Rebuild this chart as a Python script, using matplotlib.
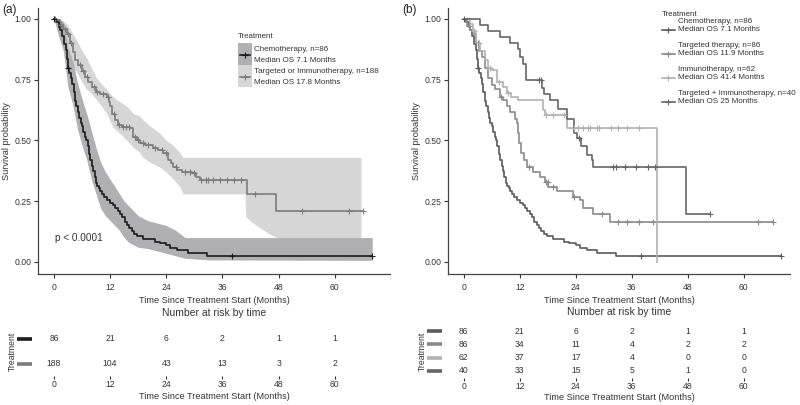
import matplotlib
matplotlib.use('Agg')
import matplotlib.pyplot as plt
import numpy as np
from matplotlib.patches import Rectangle
from matplotlib.lines import Line2D

plt.rcParams['font.family'] = ['Liberation Sans', 'DejaVu Sans']

# ---- data ----
ticks = [0, 12, 24, 36, 48, 60]

chemo_t = [0, 0.5, 1.0, 1.4, 1.8, 2.2, 2.5, 2.8, 3.0, 3.3, 3.6, 3.9, 4.2, 4.5, 4.8, 5.1, 5.4, 5.7, 6.0,
           6.3, 6.6, 6.9, 7.2, 7.5, 7.8, 8.1, 8.4, 8.7, 9.0, 9.3, 9.6, 9.9, 10.3, 10.8, 11.4, 12.0, 12.6,
           13.1, 13.6, 14.1, 14.6, 15.1, 15.6, 16.1, 16.6, 17.1, 17.8, 19.0, 21.5, 22.6, 24.0, 24.8, 26.3,
           28.6, 32.7]
chemo_s = [1.0, 0.988, 0.965, 0.953, 0.93, 0.895, 0.872, 0.837, 0.80, 0.779, 0.756, 0.733, 0.698, 0.663,
           0.64, 0.617, 0.593, 0.57, 0.558, 0.535, 0.512, 0.50, 0.477, 0.442, 0.419, 0.395, 0.372, 0.349,
           0.326, 0.314, 0.302, 0.291, 0.279, 0.267, 0.256, 0.244, 0.233, 0.221, 0.209, 0.198, 0.186,
           0.163, 0.151, 0.140, 0.128, 0.116, 0.105, 0.093, 0.081, 0.076, 0.070, 0.058, 0.047, 0.035, 0.026]
chemo_end = 68.0
chemo_cens = [0.0, 3.0, 38.0, 68.0]

chemo_ci_t = [0, 1, 2, 3, 4, 5, 6, 7, 8, 9, 10, 11, 12, 13, 14, 15, 16, 17, 18, 20, 22, 24, 26, 28, 33, 68]
chemo_hi = [1.0, 1.0, 0.99, 0.88, 0.83, 0.74, 0.67, 0.61, 0.54, 0.47, 0.41, 0.37, 0.34, 0.31, 0.28,
            0.25, 0.23, 0.21, 0.19, 0.17, 0.16, 0.15, 0.13, 0.10, 0.10, 0.10]
chemo_lo = [1.0, 0.93, 0.87, 0.72, 0.65, 0.55, 0.48, 0.42, 0.34, 0.28, 0.22, 0.19, 0.17, 0.15, 0.13,
            0.10, 0.08, 0.07, 0.06, 0.055, 0.045, 0.035, 0.025, 0.015, 0.008, 0.006]

comb_t = [0, 0.5, 1.3, 2.0, 2.7, 3.4, 4.0, 4.5, 5.2, 5.9, 6.6, 7.3, 8.1, 9.0, 9.8, 11.3, 11.7, 12.0,
          12.5, 13.0, 13.7, 14.5, 16.2, 17.0, 17.7, 18.4, 19.5, 21.2, 22.3, 23.3, 24.4, 25.0, 25.5, 26.3,
          27.3, 29.5, 30.3, 31.2, 41.2, 47.4]
comb_s = [1.0, 0.995, 0.975, 0.96, 0.94, 0.90, 0.865, 0.83, 0.81, 0.785, 0.76, 0.74, 0.72, 0.70, 0.69,
          0.68, 0.66, 0.64, 0.61, 0.585, 0.565, 0.555, 0.55, 0.515, 0.50, 0.49, 0.48, 0.47, 0.46, 0.45,
          0.42, 0.405, 0.39, 0.38, 0.37, 0.365, 0.35, 0.337, 0.28, 0.21]
comb_end = 66.0
comb_cens = [0.3, 1.5, 2.3, 3.0, 3.7, 5.5, 6.2, 7.0, 8.5, 9.3, 10.5, 11.5, 12.8, 14.0, 14.8, 15.5, 16.0,
             17.3, 18.0, 19.0, 20.0, 21.5, 23.0, 24.0, 26.0, 28.0, 29.0, 30.0, 31.5, 32.5, 33.0, 34.0,
             35.5, 37.0, 38.5, 40.0, 43.0, 53.0, 63.0, 66.0]

comb_ci_t = [0, 1.3, 2.7, 4.0, 4.9, 6.0, 7.0, 7.7, 9.0, 9.8, 11.3, 12.6, 14.0, 15.6, 17.0, 18.4, 19.0,
             20.5, 22.6, 24.0, 25.5, 26.9, 27.6, 40.8, 41.0, 42.5, 44.5, 46.0, 47.6, 65.6]
comb_hi = [1.0, 1.0, 0.98, 0.94, 0.91, 0.87, 0.84, 0.81, 0.76, 0.74, 0.71, 0.68, 0.66, 0.64, 0.61, 0.60,
           0.585, 0.56, 0.53, 0.50, 0.48, 0.45, 0.43, 0.43, 0.43, 0.43, 0.43, 0.43, 0.43, 0.43]
comb_lo = [1.0, 0.94, 0.86, 0.80, 0.78, 0.74, 0.71, 0.70, 0.67, 0.65, 0.61, 0.555, 0.53, 0.50, 0.47,
           0.45, 0.43, 0.41, 0.39, 0.37, 0.34, 0.31, 0.28, 0.28, 0.185, 0.16, 0.135, 0.115, 0.10, 0.10]

targ_t = [0, 0.7, 1.3, 2.0, 2.7, 3.2, 3.8, 4.5, 5.2, 6.0, 6.6, 7.7, 8.4, 9.2, 9.9, 10.9, 11.3, 11.6,
          11.9, 12.3, 12.8, 13.5, 14.8, 16.3, 17.4, 18.1, 19.9, 23.4, 24.9, 25.5, 27.6, 31.3]
targ_s = [1.0, 0.97, 0.955, 0.94, 0.90, 0.87, 0.845, 0.80, 0.755, 0.73, 0.71, 0.68, 0.665, 0.64, 0.615,
          0.59, 0.57, 0.53, 0.49, 0.45, 0.42, 0.39, 0.37, 0.35, 0.33, 0.31, 0.29, 0.265, 0.255, 0.22,
          0.195, 0.165]
targ_end = 66.3
targ_cens = [1.0, 3.0, 8.0, 14.0, 17.5, 18.0, 19.0, 23.5, 29.7, 33.0, 35.0, 37.5, 40.5, 63.0, 66.3]

imm_t = [0, 1.3, 2.0, 2.7, 3.4, 4.5, 5.2, 6.1, 7.0, 8.4, 9.2, 10.2, 11.6, 17.0, 17.4, 22.0, 41.4]
imm_s = [1.0, 0.98, 0.95, 0.90, 0.87, 0.83, 0.80, 0.79, 0.74, 0.72, 0.695, 0.68, 0.665, 0.625, 0.605,
         0.55, 0.0]
imm_end = 41.4
imm_cens = [2.2, 3.2, 5.5, 7.5, 9.5, 17.5, 19.0, 21.5, 23.5, 24.5, 25.5, 26.5, 27.0, 28.5, 29.0, 31.5,
            33.0, 35.0, 37.5]

ti_t = [0, 3.4, 5.2, 7.7, 9.9, 11.5, 12.0, 12.7, 13.4, 16.7, 17.2, 18.4, 20.2, 22.0, 23.6, 24.2, 25.2,
        26.3, 27.4, 27.7, 47.7]
ti_s = [1.0, 0.975, 0.95, 0.925, 0.90, 0.875, 0.845, 0.815, 0.75, 0.715, 0.69, 0.665, 0.63, 0.59, 0.53,
        0.51, 0.475, 0.44, 0.42, 0.39, 0.195]
ti_end = 52.7
ti_cens = [16.0, 16.5, 24.6, 32.0, 32.5, 34.5, 37.0, 39.5, 41.0, 52.7]

a_risk = [[86, 21, 6, 2, 1, 1], [188, 104, 43, 13, 3, 2]]
b_risk = [[86, 21, 6, 2, 1, 1], [86, 34, 11, 4, 2, 2], [62, 37, 17, 4, 0, 0], [40, 33, 15, 5, 1, 0]]

a_labels = [('Chemotherapy, n=86', 'Median OS 7.1 Months'),
            ('Targeted or Immunotherapy, n=188', 'Median OS 17.8 Months')]
b_labels = [('Chemotherapy, n=86', 'Median OS 7.1 Months'),
            ('Targeted therapy, n=86', 'Median OS 11.9 Months'),
            ('Immunotherapy, n=62', 'Median OS 41.4 Months'),
            ('Targeted + Immunotherapy, n=40', 'Median OS 25 Months')]

a_cols = ['#1c1c1c', '#7c7c7c']
a_band = ['#b0b0b3', '#d6d6d6']
b_cols = ['#5a5a5a', '#8a8a8a', '#b2b2b2', '#666666']

TXT = '#333333'
W, H = 800, 405


def km(ax, t, s, end, cens, color, lw=1.2):
    tt = list(t) + [end]
    ss = list(s) + [s[-1]]
    ax.step(tt, ss, where='post', color=color, lw=lw, zorder=3)
    idx = np.searchsorted(t, cens, side='right') - 1
    ax.plot(cens, np.array(s)[idx], ls='none', marker='+', ms=5, mew=0.8, color=color, zorder=4)


def style_main(ax, xmax):
    ax.set_xlim(-3.4, xmax)
    ax.set_ylim(-0.05, 1.045)
    for sp in ['top', 'right']:
        ax.spines[sp].set_visible(False)
    for sp in ['left', 'bottom']:
        ax.spines[sp].set_color('#444444')
        ax.spines[sp].set_linewidth(0.9)
    ax.set_xticks(ticks)
    ax.set_yticks([0, 0.25, 0.5, 0.75, 1.0])
    ax.set_yticklabels(['0.00', '0.25', '0.50', '0.75', '1.00'])
    ax.tick_params(labelsize=6.2, colors=TXT, length=3, width=0.8)
    ax.tick_params(axis='y', pad=1.5)
    ax.set_xlabel('Time Since Treatment Start (Months)', fontsize=6.6, color=TXT, labelpad=3)
    ax.set_ylabel('Survival probability', fontsize=6.6, color=TXT, labelpad=3)


def style_risk(ax, xmax, rows, cols, title):
    n = len(rows)
    ax.set_xlim(-3.4, xmax)
    ax.set_ylim(n - 0.5, -0.5)
    for sp in ax.spines.values():
        sp.set_visible(False)
    ax.set_yticks([])
    ax.set_xticks(ticks)
    ax.tick_params(axis='x', labelsize=6.2, colors=TXT, length=2, width=0.8, pad=1)
    ax.set_xlabel('Time Since Treatment Start (Months)', fontsize=6.6, color=TXT, labelpad=2)
    for i, row in enumerate(rows):
        for x, v in zip(ticks, row):
            ax.text(x, i, str(v), ha='center', va='center', fontsize=6.2, color=TXT)
        ax.plot([-0.06, -0.017], [i, i], transform=ax.get_yaxis_transform(), color=cols[i],
                lw=2.6, clip_on=False, solid_capstyle='butt')
    ax.set_title(title, fontsize=7.5, color=TXT, pad=7)
    ax.set_ylabel('Treatment', fontsize=6.2, color=TXT, labelpad=15)


fig = plt.figure(figsize=(8, 4.05), dpi=100)


def px_axes(l, r, top, bot):
    return fig.add_axes([l / W, 1 - bot / H, (r - l) / W, (bot - top) / H])


def ptext(x, y, s, **kw):
    fig.text(x / W, 1 - y / H, s, va='center', ha='left', color=TXT, **kw)


def pkey(x1, x2, y, color):
    fx = [x1 / W, x2 / W]
    fy = [1 - y / H] * 2
    fig.add_artist(Line2D(fx, fy, color=color, lw=1.2, transform=fig.transFigure))
    fig.add_artist(Line2D([sum(fx) / 2], [fy[0]], color=color, marker='+', ms=5, mew=0.8, ls='none',
                          transform=fig.transFigure))


def legend_a(x, y, labels, cols, bands):
    ptext(x, y, 'Treatment', fontsize=5.7)
    for i, (l1, l2) in enumerate(labels):
        top = y + 6 + i * 22.3
        fig.add_artist(Rectangle((x / W, 1 - (top + 22) / H), 14 / W, 22 / H, fc=bands[i], ec='none',
                                 transform=fig.transFigure))
        pkey(x + 2, x + 12, top + 11.5, cols[i])
        ptext(x + 16.5, top + 6.5, l1, fontsize=5.8)
        ptext(x + 16.5, top + 17, l2, fontsize=5.8)


def legend_b(x, y, labels, cols):
    ptext(x, y, 'Treatment', fontsize=5.7)
    for i, (l1, l2) in enumerate(labels):
        base = y + 7.5 + i * 24
        pkey(x, x + 12.5, base + 8, cols[i])
        ptext(x + 16, base, l1, fontsize=5.8)
        ptext(x + 16, base + 8, l2, fontsize=5.8)


# ---- panel (a) ----
ax = px_axes(38, 390, 8, 274)
ax.fill_between(comb_ci_t, comb_lo, comb_hi, color=a_band[1], lw=0, zorder=1)
ax.fill_between(chemo_ci_t, chemo_lo, chemo_hi, color=a_band[0], lw=0, zorder=1)
km(ax, comb_t, comb_s, comb_end, comb_cens, a_cols[1])
km(ax, chemo_t, chemo_s, chemo_end, chemo_cens, a_cols[0])
style_main(ax, 71.8)
ax.text(0.2, 0.10, 'p < 0.0001', fontsize=7.2, color=TXT, va='center')
legend_a(238, 37, a_labels, a_cols, a_band)

rax = px_axes(38, 390, 326, 376)
style_risk(rax, 71.8, a_risk, a_cols, 'Number at risk by time')

# ---- panel (b) ----
bx = px_axes(448, 790, 8, 274)
km(bx, chemo_t, chemo_s, chemo_end, chemo_cens, b_cols[0])
km(bx, targ_t, targ_s, targ_end, targ_cens, b_cols[1])
km(bx, imm_t, imm_s, imm_end, imm_cens, b_cols[2])
km(bx, ti_t, ti_s, ti_end, ti_cens, b_cols[3])
style_main(bx, 69.9)
legend_b(662, 14, b_labels, b_cols)

rbx = px_axes(448, 790, 324.5, 377.5)
style_risk(rbx, 69.9, b_risk, b_cols, 'Number at risk by time')

fig.text(2 / W, 1 - 10 / H, '(a)', fontsize=8.5, color='#222222', va='center')
fig.text(402 / W, 1 - 10 / H, '(b)', fontsize=8.5, color='#222222', va='center')

fig.savefig('out.png', dpi=100)
